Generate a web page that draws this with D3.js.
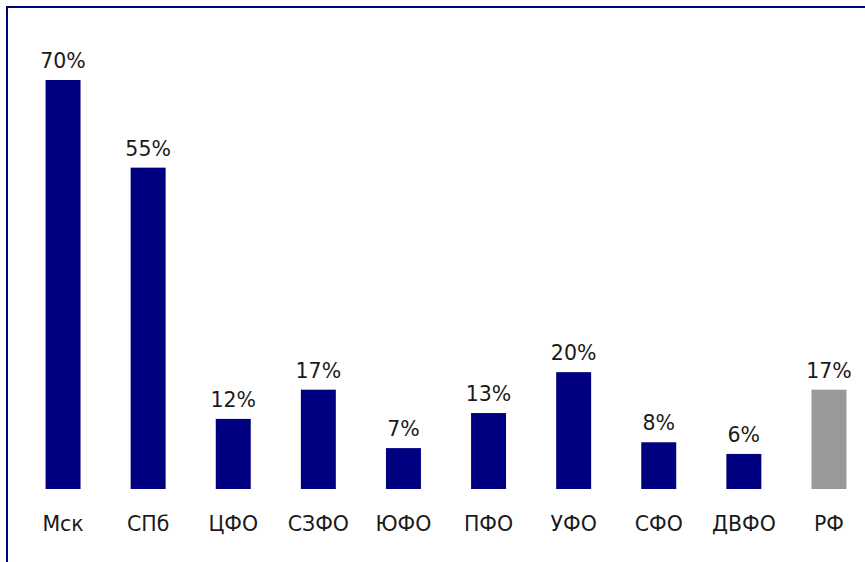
<!DOCTYPE html>
<html lang="ru">
<head>
<meta charset="utf-8">
<title>Chart</title>
<script src="https://d3js.org/d3.v7.min.js"></script>
<style>
  body { margin: 0; background: #fff; }
  svg { display: block; }
  text { font-family: "DejaVu Sans", Verdana, sans-serif; font-size: 20.5px; fill: #1a1a1a; }
</style>
</head>
<body>
<script>
var categories = ["Мск", "СПб", "ЦФО", "СЗФО", "ЮФО", "ПФО", "УФО", "СФО", "ДВФО", "РФ"];
var values = [70, 55, 12, 17, 7, 13, 20, 8, 6, 17];
var labels = ["70%", "55%", "12%", "17%", "7%", "13%", "20%", "8%", "6%", "17%"];

var w = 865, h = 562;
var baseY = 489;

var svg = d3.select("body").append("svg")
    .attr("width", w)
    .attr("height", h);

// frame (right and bottom edges fall outside the picture)
svg.append("rect")
    .attr("x", 7).attr("y", 7)
    .attr("width", 920).attr("height", 620)
    .attr("fill", "none")
    .attr("stroke", "#000080")
    .attr("stroke-width", 2);

var x = d3.scaleBand()
    .domain(categories)
    .range([20.5, 871.5])
    .paddingInner(0.589)
    .paddingOuter(0.2945);

var y = d3.scaleLinear()
    .domain([0, 70])
    .range([baseY, 80]);

svg.selectAll("rect.bar")
    .data(values)
    .enter()
    .append("rect")
    .attr("class", "bar")
    .attr("x", function(d, i) { return x(categories[i]); })
    .attr("y", function(d) { return y(d); })
    .attr("width", x.bandwidth())
    .attr("height", function(d) { return baseY - y(d); })
    .attr("fill", function(d, i) { return categories[i] == "РФ" ? "#999999" : "#000080"; });

svg.selectAll("text.val")
    .data(values)
    .enter()
    .append("text")
    .attr("class", "val")
    .attr("x", function(d, i) { return x(categories[i]) + x.bandwidth() / 2; })
    .attr("y", function(d) { return y(d) - 12; })
    .attr("text-anchor", "middle")
    .text(function(d, i) { return labels[i]; });

svg.selectAll("text.cat")
    .data(categories)
    .enter()
    .append("text")
    .attr("class", "cat")
    .attr("x", function(d) { return x(d) + x.bandwidth() / 2; })
    .attr("y", 531)
    .attr("text-anchor", "middle")
    .text(function(d) { return d; });
</script>
</body>
</html>
